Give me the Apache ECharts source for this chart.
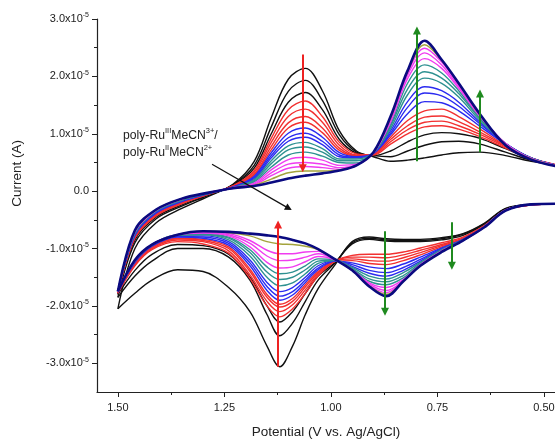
<!DOCTYPE html>
<html>
<head>
<meta charset="utf-8">
<script src="https://cdn.jsdelivr.net/npm/echarts@6/dist/echarts.min.js"></script>
<style>
html,body{margin:0;padding:0;background:#fff;}
#cv{width:555px;height:440px;}
</style>
</head>
<body>
<div id="cv"></div>
<script>
// potential grid (V vs Ag/AgCl) for the upper and lower branch of each cycle
const potUpper = [1.50, 1.46, 1.41, 1.35, 1.29, 1.23, 1.18, 1.14, 1.10, 1.06, 1.02, 0.98, 0.94, 0.90, 0.86, 0.82, 0.78, 0.74, 0.70, 0.65, 0.59, 0.53, 0.46];
const potLower = [0.46, 0.53, 0.59, 0.64, 0.69, 0.74, 0.79, 0.83, 0.87, 0.91, 0.95, 0.99, 1.03, 1.06, 1.09, 1.12, 1.15, 1.19, 1.24, 1.30, 1.36, 1.42, 1.46, 1.50];

// current in units of 1e-5 A, one row per cycle (first cycle first)
const upperScans = [
  [-2.05, -1.00, -0.55, -0.30, -0.10, 0.12, 0.52, 1.28, 1.95, 2.14, 1.75, 1.05, 0.70, 0.60, 0.52, 0.54, 0.58, 0.63, 0.67, 0.68, 0.62, 0.52, 0.44],
  [-1.85, -0.90, -0.48, -0.26, -0.08, 0.11, 0.45, 1.12, 1.74, 1.93, 1.58, 0.98, 0.68, 0.62, 0.60, 0.70, 0.80, 0.86, 0.87, 0.82, 0.68, 0.54, 0.44],
  [-1.80, -0.85, -0.45, -0.24, -0.07, 0.10, 0.40, 1.00, 1.55, 1.72, 1.42, 0.90, 0.66, 0.62, 0.70, 0.86, 0.98, 1.02, 1.00, 0.92, 0.74, 0.56, 0.44],
  [-1.78, -0.82, -0.43, -0.22, -0.06, 0.09, 0.36, 0.92, 1.42, 1.57, 1.30, 0.85, 0.65, 0.63, 0.82, 1.00, 1.12, 1.14, 1.08, 0.95, 0.75, 0.57, 0.44],
  [-1.77, -0.80, -0.41, -0.21, -0.06, 0.09, 0.33, 0.85, 1.30, 1.43, 1.20, 0.80, 0.63, 0.64, 0.86, 1.07, 1.20, 1.22, 1.14, 0.99, 0.77, 0.57, 0.44],
  [-1.77, -0.79, -0.40, -0.20, -0.05, 0.08, 0.30, 0.78, 1.19, 1.30, 1.10, 0.75, 0.62, 0.65, 0.90, 1.14, 1.29, 1.31, 1.21, 1.03, 0.79, 0.58, 0.44],
  [-1.76, -0.78, -0.39, -0.19, -0.05, 0.08, 0.28, 0.72, 1.10, 1.20, 1.02, 0.71, 0.61, 0.65, 0.94, 1.23, 1.40, 1.43, 1.30, 1.08, 0.80, 0.58, 0.43],
  [-1.76, -0.77, -0.38, -0.18, -0.05, 0.07, 0.26, 0.67, 1.01, 1.10, 0.94, 0.67, 0.60, 0.66, 0.98, 1.35, 1.56, 1.54, 1.40, 1.13, 0.82, 0.58, 0.43],
  [-1.76, -0.76, -0.37, -0.17, -0.04, 0.07, 0.24, 0.62, 0.93, 1.01, 0.87, 0.63, 0.59, 0.66, 1.01, 1.46, 1.71, 1.66, 1.48, 1.17, 0.83, 0.58, 0.43],
  [-1.75, -0.75, -0.36, -0.16, -0.04, 0.07, 0.22, 0.58, 0.87, 0.94, 0.81, 0.60, 0.58, 0.67, 1.05, 1.56, 1.82, 1.75, 1.55, 1.20, 0.83, 0.58, 0.43],
  [-1.75, -0.74, -0.35, -0.16, -0.04, 0.06, 0.20, 0.53, 0.79, 0.85, 0.74, 0.56, 0.56, 0.67, 1.09, 1.68, 1.97, 1.88, 1.64, 1.23, 0.83, 0.58, 0.43],
  [-1.75, -0.73, -0.34, -0.15, -0.04, 0.06, 0.18, 0.48, 0.72, 0.77, 0.68, 0.53, 0.53, 0.67, 1.13, 1.78, 2.08, 1.97, 1.70, 1.26, 0.83, 0.57, 0.43],
  [-1.75, -0.72, -0.34, -0.15, -0.04, 0.06, 0.16, 0.42, 0.63, 0.68, 0.61, 0.50, 0.49, 0.67, 1.16, 1.88, 2.20, 2.06, 1.75, 1.28, 0.83, 0.57, 0.43],
  [-1.75, -0.71, -0.33, -0.14, -0.03, 0.06, 0.14, 0.37, 0.55, 0.59, 0.54, 0.45, 0.47, 0.67, 1.20, 1.96, 2.31, 2.14, 1.79, 1.30, 0.83, 0.57, 0.43],
  [-1.75, -0.70, -0.33, -0.14, -0.03, 0.05, 0.12, 0.32, 0.47, 0.50, 0.47, 0.41, 0.46, 0.67, 1.23, 2.02, 2.41, 2.20, 1.82, 1.31, 0.83, 0.57, 0.43],
  [-1.75, -0.69, -0.32, -0.13, -0.03, 0.05, 0.11, 0.27, 0.40, 0.43, 0.41, 0.38, 0.45, 0.67, 1.25, 2.06, 2.49, 2.25, 1.85, 1.32, 0.82, 0.56, 0.42],
  [-1.75, -0.69, -0.32, -0.13, -0.03, 0.05, 0.10, 0.21, 0.32, 0.35, 0.35, 0.37, 0.45, 0.68, 1.27, 2.08, 2.55, 2.28, 1.87, 1.33, 0.81, 0.56, 0.42],
  [-1.75, -0.68, -0.32, -0.13, -0.03, 0.05, 0.09, 0.15, 0.22, 0.27, 0.31, 0.36, 0.45, 0.68, 1.30, 2.10, 2.62, 2.29, 1.88, 1.34, 0.80, 0.55, 0.42]
];
const lowerScans = [
  [-0.22, -0.23, -0.30, -0.56, -0.74, -0.81, -0.84, -0.84, -0.83, -0.80, -0.88, -1.28, -1.70, -2.15, -2.70, -3.06, -2.70, -2.10, -1.68, -1.40, -1.37, -1.55, -1.78, -2.05],
  [-0.22, -0.23, -0.31, -0.57, -0.75, -0.83, -0.86, -0.86, -0.85, -0.82, -0.90, -1.25, -1.55, -1.92, -2.30, -2.52, -2.15, -1.55, -1.15, -1.00, -1.00, -1.22, -1.48, -1.85],
  [-0.22, -0.23, -0.31, -0.58, -0.77, -0.85, -0.88, -0.88, -0.87, -0.84, -0.92, -1.24, -1.48, -1.78, -2.10, -2.28, -2.00, -1.50, -1.10, -0.95, -0.93, -1.10, -1.38, -1.80],
  [-0.22, -0.24, -0.33, -0.60, -0.80, -0.90, -0.99, -1.06, -1.10, -1.10, -1.12, -1.22, -1.48, -1.78, -2.05, -2.19, -2.00, -1.52, -1.08, -0.92, -0.88, -1.02, -1.30, -1.78],
  [-0.22, -0.24, -0.33, -0.61, -0.82, -0.93, -1.03, -1.11, -1.16, -1.15, -1.15, -1.22, -1.45, -1.72, -1.98, -2.10, -1.92, -1.46, -1.04, -0.88, -0.85, -1.00, -1.28, -1.77],
  [-0.22, -0.24, -0.33, -0.61, -0.83, -0.95, -1.07, -1.16, -1.22, -1.21, -1.18, -1.22, -1.42, -1.67, -1.92, -2.02, -1.85, -1.40, -1.00, -0.86, -0.83, -0.98, -1.26, -1.77],
  [-0.22, -0.24, -0.33, -0.62, -0.84, -0.97, -1.11, -1.21, -1.28, -1.26, -1.21, -1.22, -1.40, -1.63, -1.87, -1.97, -1.80, -1.36, -0.97, -0.84, -0.82, -0.97, -1.25, -1.76],
  [-0.22, -0.24, -0.33, -0.62, -0.84, -0.99, -1.15, -1.27, -1.35, -1.32, -1.25, -1.22, -1.37, -1.59, -1.81, -1.90, -1.73, -1.30, -0.94, -0.82, -0.80, -0.96, -1.24, -1.76],
  [-0.22, -0.23, -0.33, -0.62, -0.85, -1.00, -1.19, -1.33, -1.42, -1.38, -1.28, -1.21, -1.34, -1.55, -1.75, -1.83, -1.66, -1.25, -0.91, -0.80, -0.79, -0.95, -1.23, -1.76],
  [-0.22, -0.23, -0.33, -0.62, -0.85, -1.01, -1.22, -1.38, -1.48, -1.43, -1.31, -1.21, -1.30, -1.50, -1.68, -1.75, -1.59, -1.20, -0.88, -0.78, -0.78, -0.94, -1.22, -1.75],
  [-0.22, -0.23, -0.33, -0.62, -0.85, -1.02, -1.24, -1.42, -1.53, -1.48, -1.33, -1.21, -1.26, -1.44, -1.60, -1.65, -1.50, -1.13, -0.85, -0.76, -0.77, -0.94, -1.22, -1.75],
  [-0.22, -0.23, -0.33, -0.62, -0.86, -1.03, -1.26, -1.47, -1.58, -1.53, -1.35, -1.20, -1.22, -1.37, -1.50, -1.54, -1.41, -1.07, -0.82, -0.75, -0.76, -0.93, -1.21, -1.75],
  [-0.22, -0.23, -0.33, -0.62, -0.86, -1.04, -1.27, -1.51, -1.63, -1.57, -1.36, -1.20, -1.18, -1.30, -1.41, -1.44, -1.32, -1.02, -0.80, -0.74, -0.76, -0.93, -1.21, -1.75],
  [-0.22, -0.23, -0.33, -0.62, -0.86, -1.04, -1.28, -1.54, -1.68, -1.60, -1.37, -1.20, -1.14, -1.23, -1.32, -1.34, -1.24, -0.97, -0.78, -0.73, -0.76, -0.93, -1.21, -1.75],
  [-0.22, -0.23, -0.33, -0.62, -0.86, -1.05, -1.29, -1.56, -1.73, -1.62, -1.38, -1.19, -1.09, -1.15, -1.20, -1.21, -1.13, -0.91, -0.76, -0.72, -0.76, -0.93, -1.21, -1.75],
  [-0.22, -0.23, -0.34, -0.63, -0.86, -1.05, -1.29, -1.56, -1.77, -1.64, -1.38, -1.19, -1.05, -1.06, -1.09, -1.09, -1.03, -0.86, -0.74, -0.71, -0.76, -0.93, -1.20, -1.75],
  [-0.22, -0.23, -0.34, -0.63, -0.86, -1.06, -1.30, -1.57, -1.80, -1.65, -1.38, -1.19, -1.02, -0.96, -0.93, -0.92, -0.88, -0.78, -0.72, -0.70, -0.76, -0.93, -1.20, -1.75],
  [-0.22, -0.23, -0.34, -0.63, -0.86, -1.06, -1.30, -1.57, -1.83, -1.66, -1.38, -1.19, -1.01, -0.91, -0.85, -0.80, -0.77, -0.74, -0.71, -0.70, -0.76, -0.93, -1.20, -1.75]
];
const scanColors = ['#111111', '#111111', '#111111', '#f23030', '#f23030', '#f23030', '#f23030',
  '#2b2bf0', '#2b2bf0', '#2b2bf0', '#2e9191', '#2e9191', '#2e9191', '#f03cf0', '#f03cf0', '#f03cf0', '#a3a33c', '#0a0a80'];

// axis ticks
const xMajor = [0.50, 0.75, 1.00, 1.25, 1.50];
const xMinor = [0.625, 0.875, 1.125, 1.375];
const yMajor = [-3, -2, -1, 0, 1, 2, 3];
const yMinor = [-2.5, -1.5, -0.5, 0.5, 1.5, 2.5];

// arrows [start, end] in (V, 1e-5 A)
const redArrows = [[[1.066, 2.38], [1.066, 0.40]], [[1.124, -3.06], [1.124, -0.58]]];
const greenArrows = [[[0.798, 0.52], [0.798, 2.80]], [[0.65, 0.68], [0.65, 1.70]],
  [[0.873, -0.70], [0.873, -2.10]], [[0.716, -0.54], [0.716, -1.30]]];
const pointerArrow = [[[1.279, 0.47], [1.099, -0.30]]];

const FONT = 'Liberation Sans';
const TXT = '#222';

const series = [];
upperScans.forEach((cur, i) => {
  series.push({
    type: 'line', smooth: 0.35, symbol: 'none', silent: true,
    lineStyle: {color: scanColors[i], width: i === 17 ? 2.6 : 1.4},
    data: potUpper.map((p, k) => [p, cur[k]])
  });
});
lowerScans.forEach((cur, i) => {
  series.push({
    type: 'line', smooth: 0.35, symbol: 'none', silent: true,
    lineStyle: {color: scanColors[i], width: i === 17 ? 2.6 : 1.4},
    data: potLower.map((p, k) => [p, cur[k]])
  });
});
function arrowSeries(list, color, width, size) {
  return {
    type: 'line', data: [], silent: true, symbol: 'none',
    markLine: {
      silent: true, animation: false,
      symbol: ['none', 'triangle'], symbolSize: size,
      label: {show: false},
      lineStyle: {color: color, width: width, type: 'solid'},
      data: list.map(a => [{coord: a[0]}, {coord: a[1]}])
    }
  };
}
series.push(arrowSeries(redArrows, '#ee2222', 2, 8));
series.push(arrowSeries(greenArrows, '#1f8a1f', 2, 8));
series.push(arrowSeries(pointerArrow, '#111', 1.2, 7));

const supLabel = v => v === 0 ? '0.0' : '{m|' + v.toFixed(1) + 'x10}{e|-5}';

const option = {
  animation: false,
  backgroundColor: '#fff',
  grid: {left: 97, right: 0, top: 19, bottom: 48, containLabel: false, outerBoundsMode: 'none'},
  xAxis: [{
    type: 'value', inverse: true, min: 0.474, max: 1.549,
    splitLine: {show: false},
    axisLine: {onZero: false, lineStyle: {color: '#222', width: 1.2}},
    axisTick: {length: 5, lineStyle: {color: '#222'}, customValues: xMajor},
    axisLabel: {customValues: xMajor, color: TXT, fontFamily: FONT, fontSize: 11, margin: 10,
      formatter: v => v.toFixed(2)},
    name: 'Potential (V vs. Ag/AgCl)', nameLocation: 'middle', nameGap: 33,
    nameTextStyle: {color: TXT, fontFamily: FONT, fontSize: 13.5}
  }, {
    type: 'value', inverse: true, min: 0.474, max: 1.549, position: 'bottom',
    splitLine: {show: false}, axisLine: {show: false, onZero: false}, axisLabel: {show: false},
    axisTick: {length: 3, lineStyle: {color: '#222'}, customValues: xMinor}
  }],
  yAxis: [{
    type: 'value', min: -3.5, max: 3.0,
    splitLine: {show: false},
    axisLine: {show: true, onZero: false, lineStyle: {color: '#222', width: 1.2}},
    axisTick: {show: true, length: 5, lineStyle: {color: '#222'}, customValues: yMajor},
    axisLabel: {customValues: yMajor, color: TXT, fontFamily: FONT, fontSize: 11, margin: 8,
      formatter: supLabel,
      rich: {
        m: {fontFamily: FONT, fontSize: 11, color: TXT, lineHeight: 14},
        e: {fontFamily: FONT, fontSize: 7, color: TXT, lineHeight: 8, verticalAlign: 'top'}
      }}
  }, {
    type: 'value', min: -3.5, max: 3.0, position: 'left',
    splitLine: {show: false}, axisLine: {show: false, onZero: false}, axisLabel: {show: false},
    axisTick: {show: true, length: 3, lineStyle: {color: '#222'}, customValues: yMinor}
  }],
  graphic: [{
    type: 'text', left: 10, top: 140, rotation: Math.PI / 2,
    style: {text: 'Current (A)', fill: TXT, font: '13.5px "Liberation Sans"'}
  }, {
    type: 'text', left: 123, top: 127,
    style: {
      text: '{t|poly-Ru}{s|III}{t|MeCN}{s|3+}{t|/}\n{t|poly-Ru}{s|II}{t|MeCN}{s|2+}',
      rich: {
        t: {fontFamily: FONT, fontSize: 12.2, fill: TXT, lineHeight: 17},
        s: {fontFamily: FONT, fontSize: 7.5, fill: TXT, lineHeight: 9, verticalAlign: 'top'}
      }
    }
  }],
  series: series
};

const chart = echarts.init(document.getElementById('cv'));
chart.setOption(option);
</script>
</body>
</html>
